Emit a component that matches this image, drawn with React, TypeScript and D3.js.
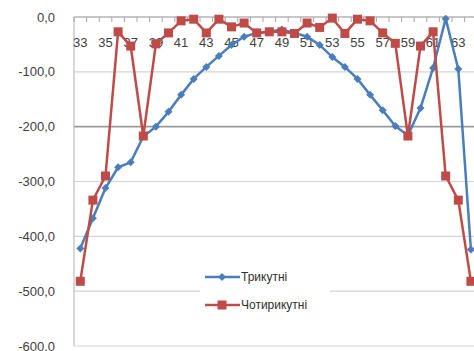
import React from "react";
import * as d3 from "d3";

const categories = d3.range(33, 65).map(String);
const triangular = [
  -422, -367, -312, -274, -265, -218, -200, -173, -142, -113, -91, -71, -51, -36, -29, -27,
  -23, -29, -36, -51, -73, -91, -113, -142, -170, -199, -216, -166, -93, -3, -95, -424,
];
const quadrilateral = [
  -482, -334, -290, -27, -53, -217, -49, -29, -7, -4, -29, -4, -18, -11, -29, -27,
  -27, -30, -11, -19, -2, -30, -4, -7, -29, -48, -217, -53, -27, -290, -334, -482,
];
const yTicks = [0, -100, -200, -300, -400, -500, -600];
const seriesNames = ["Трикутні", "Чотирикутні"];

const W = 474;
const H = 351;
const BLUE = "#4a7ebb";
const RED = "#be4b48";
const FONT = "'Liberation Sans', Arial, sans-serif";

export default function App() {
  const x = d3.scaleBand().domain(categories).range([74, 74 + 12.6 * categories.length]);
  const y = d3.scaleLinear().domain([-600, 0]).range([346, 17]);
  const cx = (i: number) => (x(categories[i]) as number) + x.bandwidth() / 2;
  const line = d3
    .line<number>()
    .x((_, i) => cx(i))
    .y((v) => y(v));

  const fmt = (v: number) => v.toFixed(1).replace(".", ",");
  const diamond = (px: number, py: number, r: number) =>
    `M${px},${py - r}L${px + r},${py}L${px},${py + r}L${px - r},${py}Z`;

  return (
    <svg
      width={W}
      height={H}
      style={{ position: "absolute", left: 0, top: 0, background: "#fff" }}
    >
      {/* horizontal gridlines */}
      {yTicks.map((t) => (
        <line
          key={t}
          x1={74}
          x2={W}
          y1={y(t)}
          y2={y(t)}
          stroke={t === -200 ? "#9a9a9a" : "#d4d4d4"}
          strokeWidth={t === -200 ? 1.6 : 1.2}
        />
      ))}
      {/* y axis */}
      <line x1={74} x2={74} y1={y(0)} y2={y(-600)} stroke="#bdbdbd" strokeWidth={1.2} />
      {yTicks.map((t) => (
        <text
          key={t}
          x={55}
          y={y(t)}
          dy="0.35em"
          textAnchor="end"
          fontFamily={FONT}
          fontSize={13}
          fill="#404040"
        >
          {fmt(t)}
        </text>
      ))}
      {/* category axis along zero */}
      <line x1={74} x2={W} y1={y(0)} y2={y(0)} stroke="#a6a6a6" strokeWidth={1.2} />
      {categories.map((c) => (
        <line
          key={"t" + c}
          x1={x(c) as number}
          x2={x(c) as number}
          y1={y(0)}
          y2={y(0) + 5}
          stroke="#a6a6a6"
        />
      ))}
      {categories.map((c, i) =>
        i % 2 === 0 ? (
          <text
            key={"l" + c}
            x={cx(i)}
            y={y(0) + 30}
            textAnchor="middle"
            fontFamily={FONT}
            fontSize={13}
            fill="#404040"
          >
            {c}
          </text>
        ) : null
      )}

      {/* legend box */}
      <rect x={200} y={262} width={130} height={58} fill="#fff" />
      <line x1={205} x2={240} y1={277} y2={277} stroke={BLUE} strokeWidth={2.5} />
      <path d={diamond(222, 277, 4)} fill={BLUE} />
      <text x={241} y={277} dy="0.35em" fontFamily={FONT} fontSize={12} fill="#303030">
        {seriesNames[0]}
      </text>
      <line x1={205} x2={240} y1={305} y2={305} stroke={RED} strokeWidth={2.5} />
      <rect x={217.5} y={300.5} width={9} height={9} fill={RED} />
      <text x={241} y={305} dy="0.35em" fontFamily={FONT} fontSize={12} fill="#303030">
        {seriesNames[1]}
      </text>

      {/* series */}
      <path d={line(triangular) ?? ""} fill="none" stroke={BLUE} strokeWidth={2.5} />
      {triangular.map((v, i) => (
        <path key={"b" + i} d={diamond(cx(i), y(v), 4)} fill={BLUE} />
      ))}
      <path d={line(quadrilateral) ?? ""} fill="none" stroke={RED} strokeWidth={2.5} />
      {quadrilateral.map((v, i) => (
        <rect key={"r" + i} x={cx(i) - 4.5} y={y(v) - 4.5} width={9} height={9} fill={RED} />
      ))}
    </svg>
  );
}
